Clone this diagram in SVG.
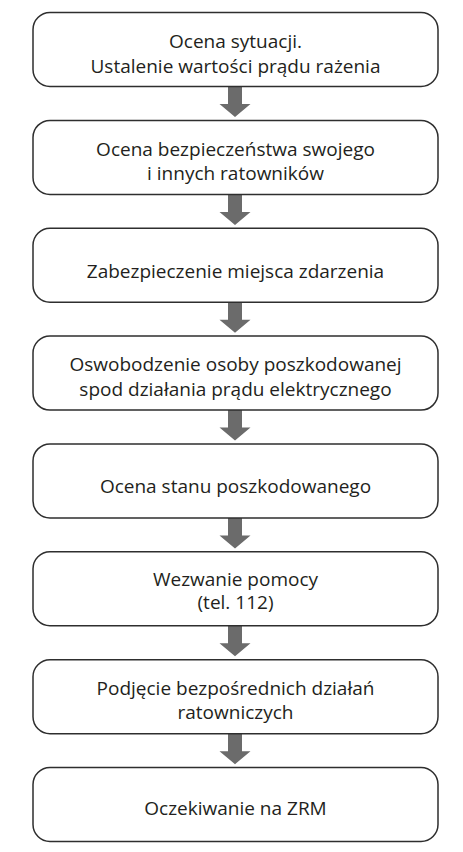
<svg xmlns="http://www.w3.org/2000/svg" width="463" height="852" viewBox="0 0 463 852">
<defs>
<style>
.box{fill:#fff;stroke:#2e2e2e;stroke-width:1.5}
.t{font-family:"Open Sans","Noto Sans","DejaVu Sans",sans-serif;font-size:19px;fill:#231f20;text-anchor:middle}
.arr{fill:#6b6b6b}
</style>
<path id="arrow" class="arr" d="M228,0 H242 V17.5 H250.5 L235,30.5 L219.5,17.5 H228 Z"/>
</defs>
<rect width="463" height="852" fill="#fff"/>
<g id="connectors">
<use href="#arrow" y="86.5"/>
<use href="#arrow" y="194.4"/>
<use href="#arrow" y="302.2"/>
<use href="#arrow" y="410.1"/>
<use href="#arrow" y="517.9"/>
<use href="#arrow" y="625.8"/>
<use href="#arrow" y="733.7"/>
</g>
<g id="n1">
<rect class="box" x="33" y="12.5" width="405" height="74" rx="17"/>
<text class="t" x="235.5" y="48"><tspan x="235.5">Ocena sytuacji.</tspan><tspan x="235.5" dy="24.5">Ustalenie wartości prądu rażenia</tspan></text>
</g>
<g id="n2">
<rect class="box" x="33" y="120.4" width="405" height="74" rx="17"/>
<text class="t" x="235.5" y="155.5"><tspan x="235.5">Ocena bezpieczeństwa swojego</tspan><tspan x="235.5" dy="24.5">i innych ratowników</tspan></text>
</g>
<g id="n3">
<rect class="box" x="33" y="228.2" width="405" height="74" rx="17"/>
<text class="t" x="235.5" y="278">Zabezpieczenie miejsca zdarzenia</text>
</g>
<g id="n4">
<rect class="box" x="33" y="336.1" width="405" height="74" rx="17"/>
<text class="t" x="235.5" y="371"><tspan x="235.5">Oswobodzenie osoby poszkodowanej</tspan><tspan x="235.5" dy="24.5">spod działania prądu elektrycznego</tspan></text>
</g>
<g id="n5">
<rect class="box" x="33" y="443.9" width="405" height="74" rx="17"/>
<text class="t" x="235.5" y="493">Ocena stanu poszkodowanego</text>
</g>
<g id="n6">
<rect class="box" x="33" y="551.8" width="405" height="74" rx="17"/>
<text class="t" x="235.5" y="585.5"><tspan x="235.5">Wezwanie pomocy</tspan><tspan x="235.5" dy="23.5">(tel. 112)</tspan></text>
</g>
<g id="n7">
<rect class="box" x="33" y="659.7" width="405" height="74" rx="17"/>
<text class="t" x="235.5" y="694.5"><tspan x="235.5">Podjęcie bezpośrednich działań</tspan><tspan x="235.5" dy="24.5">ratowniczych</tspan></text>
</g>
<g id="n8">
<rect class="box" x="33" y="767.5" width="405" height="74" rx="17"/>
<text class="t" x="235.5" y="815">Oczekiwanie na ZRM</text>
</g>
</svg>
